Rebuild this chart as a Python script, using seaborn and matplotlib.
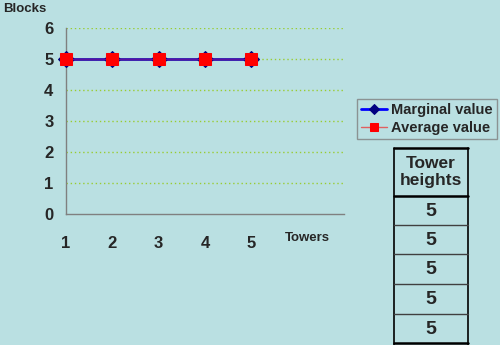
import matplotlib
matplotlib.use("Agg")
import matplotlib.pyplot as plt
import seaborn as sns
import pandas as pd

towers = [1, 2, 3, 4, 5]
marginal = [5, 5, 5, 5, 5]
average = [5, 5, 5, 5, 5]
tower_heights = [5, 5, 5, 5, 5]
y_ticks = [0, 1, 2, 3, 4, 5, 6]

BG = "#BAE0E2"
sns.set_theme(style="white")
plt.rcParams["font.family"] = ["Liberation Sans", "DejaVu Sans"]

fig = plt.figure(figsize=(5, 3.45), dpi=100, facecolor=BG)
W, H = 500, 345
ax = fig.add_axes([66 / W, 1 - 214 / H, (344 - 66) / W, (214 - 28) / H])
ax.set_facecolor(BG)

df = pd.DataFrame({"Towers": towers, "Marginal value": marginal, "Average value": average})

sns.lineplot(data=df, x="Towers", y="Marginal value", ax=ax, color="#2A14B0", lw=2,
             marker="D", markersize=8, markerfacecolor="#000080", markeredgecolor="#000080",
             label="Marginal value", zorder=3, clip_on=False)
sns.lineplot(data=df, x="Towers", y="Average value", ax=ax, color="#5A10A0", lw=1,
             marker="s", markersize=8.5, markerfacecolor="#FF0000", markeredgecolor="#FF0000",
             label="Average value", zorder=4, clip_on=False)

ax.set_xlim(1, 7)
ax.set_ylim(0, 6)
ax.set_yticks(y_ticks)
ax.set_yticklabels([str(v) for v in y_ticks], fontsize=12, fontweight="bold")
ax.set_xticks([1, 2, 3, 4, 5, 6, 7])
ax.set_xticklabels([str(t) for t in towers] + ["", ""], fontsize=12, fontweight="bold")
ax.tick_params(axis="both", length=5, width=1, color="#808080", direction="out", pad=11)
ax.tick_params(axis="y", pad=4)
ax.set_xlabel("")
ax.set_ylabel("")
for v in y_ticks[1:]:
    ax.axhline(v, color="#99CC33", lw=1, ls=(0, (1, 2)), zorder=1)
for s in ["top", "right"]:
    ax.spines[s].set_visible(False)
for s in ["left", "bottom"]:
    ax.spines[s].set_color("#808080")
    ax.spines[s].set_linewidth(1)

fig.text(3 / W, 1 - 9 / H, "Blocks", fontsize=9.5, fontweight="bold", va="center", ha="left")
fig.text(307 / W, 1 - 238 / H, "Towers", fontsize=9.5, fontweight="bold", va="center", ha="center")

leg = ax.legend(loc="upper left", bbox_to_anchor=(357 / W, 1 - 99 / H), bbox_transform=fig.transFigure,
                frameon=True, fontsize=10.5, handlelength=1.8, borderpad=0.25, labelspacing=0.3,
                handletextpad=0.3, borderaxespad=0, fancybox=False, markerscale=0.7)
leg.get_frame().set_facecolor(BG)
leg.get_frame().set_edgecolor("#808080")
for t in leg.get_texts():
    t.set_fontweight("bold")
leg.get_lines()[0].set_color("#0000FF")
leg.get_lines()[1].set_color("#E06060")

from matplotlib.lines import Line2D
tx0, tx1 = 394, 468
rows = [148, 196, 225, 254, 284, 314, 343]
def fx(px):
    return px / W
def fy(py):
    return 1 - py / H
for xx in (tx0, tx1):
    fig.add_artist(Line2D([fx(xx), fx(xx)], [fy(rows[0]), fy(345)], color="black", lw=1.2))
for i, yy in enumerate(rows):
    lw = 1.8 if i in (0, 1, len(rows) - 1) else 1.0
    col = "black" if i in (0, 1, len(rows) - 1) else "#404040"
    fig.add_artist(Line2D([fx(tx0), fx(tx1)], [fy(yy), fy(yy)], color=col, lw=lw))
fig.text(fx((tx0 + tx1) / 2), fy((rows[0] + rows[1]) / 2), "Tower\nheights", ha="center", va="center",
         fontsize=12.5, fontweight="bold", linespacing=1.1)
for i, h in enumerate(tower_heights):
    fig.text(fx((tx0 + tx1) / 2), fy((rows[i + 1] + rows[i + 2]) / 2 + 1), str(h), ha="center", va="center",
             fontsize=14, fontweight="bold")

fig.savefig("out.png", dpi=100, facecolor=BG)
